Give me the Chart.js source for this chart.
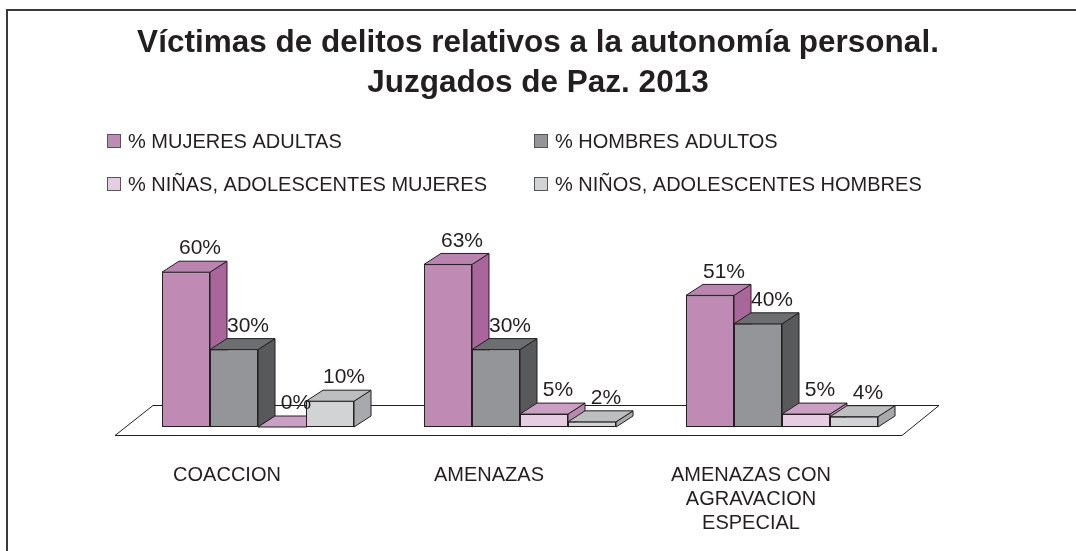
<!DOCTYPE html>
<html>
<head>
<meta charset="utf-8">
<script src="https://cdn.jsdelivr.net/npm/chart.js@4.4.0/dist/chart.umd.min.js"></script>
<style>
  body { margin: 0; background: #fff; }
  #wrap { width: 1076px; height: 551px; }
</style>
</head>
<body>
<div id="wrap"><canvas id="chart" width="1076" height="551"></canvas></div>
<script>
// chart data
const categories = ["COACCION", "AMENAZAS", ["AMENAZAS CON", "AGRAVACION", "ESPECIAL"]];
const seriesNames = [
    "% MUJERES ADULTAS",
    "% HOMBRES ADULTOS",
    "% NIÑAS, ADOLESCENTES MUJERES",
    "% NIÑOS, ADOLESCENTES HOMBRES"
];
const mujeresAdultas = [60, 63, 51];
const hombresAdultos = [30, 30, 40];
const ninasAdolescentes = [0, 5, 5];
const ninosAdolescentes = [10, 2, 4];
const titleLines = ["Víctimas de delitos relativos a la autonomía personal.", "Juzgados de Paz. 2013"];

// front / top / side colours of each series
const fronts = ["#BF8BB5", "#939598", "#E6CDE1", "#D1D3D4"];
const tops = ["#BA84B0", "#6D6E71", "#C9A0C3", "#BCBEC0"];
const sides = ["#A8669B", "#58595B", "#B58AAE", "#A7A9AC"];
const INK = "#231F20";
const FONT = "'Liberation Sans', Arial, sans-serif";
const DX = 17, DY = 11; // depth of the boxes

const decor = {
    id: "decor",
    beforeDraw(chart) {
        const ctx = chart.ctx;
        ctx.save();
        // frame (top and left only are visible)
        ctx.strokeStyle = "#3a3a3a";
        ctx.lineWidth = 2;
        ctx.beginPath();
        ctx.moveTo(7, 551);
        ctx.lineTo(7, 10);
        ctx.lineTo(1076, 10);
        ctx.stroke();

        // title
        ctx.fillStyle = INK;
        ctx.font = "bold 31.5px " + FONT;
        ctx.textAlign = "center";
        ctx.textBaseline = "middle";
        ctx.fillText(titleLines[0], 538, 43);
        ctx.fillText(titleLines[1], 538, 83);

        // legend, two columns
        const spots = [[107, 141], [534, 141], [107, 184], [534, 184]];
        ctx.font = "20px " + FONT;
        ctx.textAlign = "left";
        ctx.lineWidth = 1;
        chart.data.datasets.forEach((ds, i) => {
            const [x, y] = spots[i];
            ctx.fillStyle = fronts[i];
            ctx.fillRect(x, y - 7, 14, 14);
            ctx.strokeStyle = "#555";
            ctx.strokeRect(x + 0.5, y - 6.5, 13, 13);
            ctx.fillStyle = INK;
            ctx.fillText(ds.label, x + 21, y + 1);
        });
        ctx.restore();
    },
    beforeDatasetsDraw(chart) {
        const ctx = chart.ctx;
        const area = chart.chartArea;
        ctx.save();
        ctx.strokeStyle = INK;
        ctx.lineWidth = 1;

        // floor
        ctx.beginPath();
        ctx.moveTo(area.left - 12, area.bottom + 8.5);
        ctx.lineTo(area.right - 11, area.bottom + 8.5);
        ctx.lineTo(area.right + 26, area.bottom - 21.5);
        ctx.lineTo(area.left + 26, area.bottom - 21.5);
        ctx.closePath();
        ctx.stroke();

        // side and top faces, left to right
        const n = chart.data.labels.length;
        for (let c = 0; c < n; c++) {
            chart.data.datasets.forEach((ds, d) => {
                const bar = chart.getDatasetMeta(d).data[c];
                const { x, y, base, width } = bar.getProps(["x", "y", "base", "width"], true);
                const l = x - width / 2, r = x + width / 2;
                // side
                ctx.fillStyle = sides[d];
                ctx.beginPath();
                ctx.moveTo(r, y);
                ctx.lineTo(r + DX, y - DY);
                ctx.lineTo(r + DX, base - DY);
                ctx.lineTo(r, base);
                ctx.closePath();
                ctx.fill();
                ctx.stroke();
                // top
                ctx.fillStyle = tops[d];
                ctx.beginPath();
                ctx.moveTo(l, y);
                ctx.lineTo(r, y);
                ctx.lineTo(r + DX, y - DY);
                ctx.lineTo(l + DX, y - DY);
                ctx.closePath();
                ctx.fill();
                ctx.stroke();
            });
        }
        ctx.restore();
    },
    afterDatasetsDraw(chart) {
        const ctx = chart.ctx;
        ctx.save();
        ctx.fillStyle = INK;
        ctx.font = "21px " + FONT;
        ctx.textAlign = "center";
        ctx.textBaseline = "bottom";
        chart.data.datasets.forEach((ds, d) => {
            chart.getDatasetMeta(d).data.forEach((bar, i) => {
                const { x, y } = bar.getProps(["x", "y"], true);
                ctx.fillText(ds.data[i] + "%", x + 14, y - DY - 2);
            });
        });
        ctx.restore();
    }
};

const seriesValues = [mujeresAdultas, hombresAdultos, ninasAdolescentes, ninosAdolescentes];

new Chart(document.getElementById("chart"), {
    type: "bar",
    data: {
        labels: categories,
        datasets: seriesValues.map((vals, i) => ({
            label: seriesNames[i],
            data: vals,
            backgroundColor: fronts[i],
            borderColor: INK,
            borderWidth: 1,
            borderSkipped: false,
            categoryPercentage: 0.733,
            barPercentage: 1,
        })),
    },
    options: {
        responsive: false,
        animation: false,
        devicePixelRatio: 1,
        layout: { padding: { top: 169, left: 127, right: 163, bottom: 16 } },
        plugins: {
            legend: { display: false },
            title: { display: false },
            tooltip: { enabled: false },
        },
        scales: {
            x: {
                grid: { display: false, drawTicks: false },
                border: { display: false },
                ticks: {
                    color: INK,
                    font: { family: FONT, size: 20, lineHeight: 1.2 },
                    padding: 36,
                    labelOffset: -31,
                    maxRotation: 0,
                    autoSkip: false,
                },
                afterFit(scale) {
                    scale.height = 108;
                },
            },
            y: {
                display: false,
                min: 0,
                max: 100,
            },
        },
    },
    plugins: [decor],
});
</script>
</body>
</html>
